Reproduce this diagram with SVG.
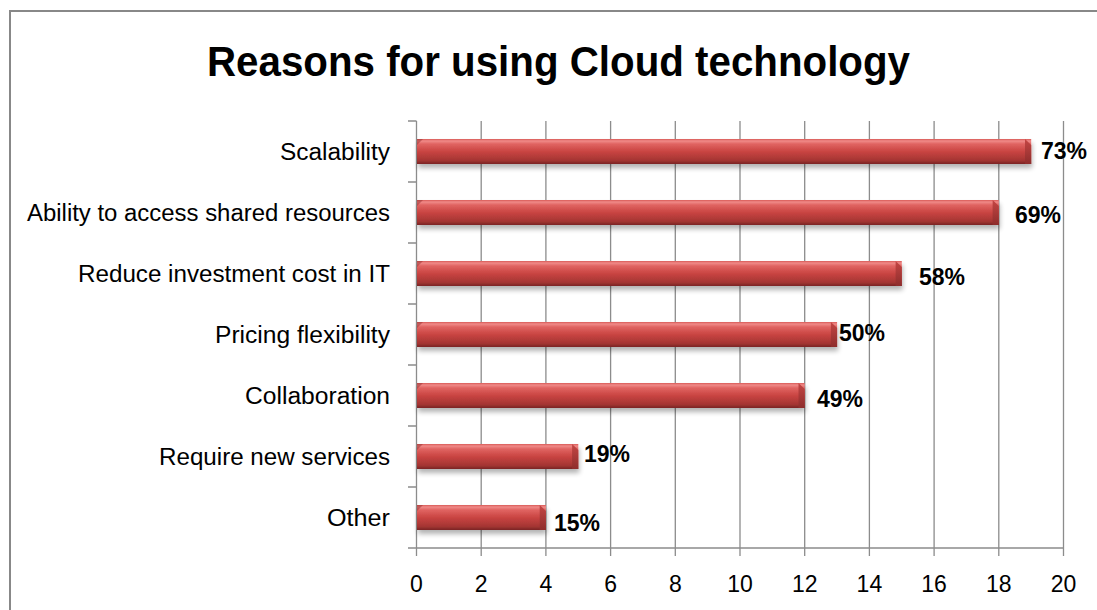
<svg xmlns="http://www.w3.org/2000/svg" width="1097" height="610" viewBox="0 0 1097 610">
<style>
.grid{stroke:#8c8c8c;stroke-width:1.3;fill:none}
.cat{font-family:"Liberation Sans",Arial,sans-serif;font-size:23px;fill:#000;text-anchor:end}
.val{font-family:"Liberation Sans",Arial,sans-serif;font-size:23px;font-weight:bold;fill:#000}
.tick{font-family:"Liberation Sans",Arial,sans-serif;font-size:23px;fill:#000;text-anchor:middle}
.bar{fill:url(#barg);filter:url(#sh)}
.endcap{fill:url(#endg)}
.lbev{fill:#8e2b2b;opacity:0.45}
</style>
<defs>
<linearGradient id="barg" x1="0" y1="0" x2="0" y2="1">
<stop offset="0" stop-color="#d85a58"/>
<stop offset="0.08" stop-color="#f08a88"/>
<stop offset="0.2" stop-color="#e06461"/>
<stop offset="0.5" stop-color="#c94442"/>
<stop offset="0.85" stop-color="#a53533"/>
<stop offset="1" stop-color="#7a2626"/>
</linearGradient>
<linearGradient id="endg" x1="0" y1="0" x2="0" y2="1">
<stop offset="0" stop-color="#c44644"/>
<stop offset="1" stop-color="#8e2d2c"/>
</linearGradient>
<filter id="sh" x="-5%" y="-30%" width="110%" height="180%">
<feGaussianBlur in="SourceAlpha" stdDeviation="2.5"/>
<feOffset dx="1" dy="4" result="b"/>
<feComponentTransfer><feFuncA type="linear" slope="0.3"/></feComponentTransfer>
<feMerge><feMergeNode/><feMergeNode in="SourceGraphic"/></feMerge>
</filter>
</defs>
<rect x="0" y="0" width="1097" height="610" fill="#fff"/>
<path d="M10,610 V11 H1097" fill="none" stroke="#888" stroke-width="2"/>
<text x="207" y="76" font-family="'Liberation Sans',Arial,sans-serif" font-size="42" font-weight="bold" textLength="703" lengthAdjust="spacingAndGlyphs">Reasons for using Cloud technology</text>
<g id="axes">
<path class="grid" d="M481.2,121V556 M545.9,121V556 M610.6,121V556 M675.3,121V556 M740,121V556 M804.7,121V556 M869.4,121V556 M934.1,121V556 M998.8,121V556 M1063.5,121V556"/>
<path class="grid" d="M416.5,121V556 M408,548H1063.5 M408,121H416.5 M408,182H416.5 M408,243H416.5 M408,304H416.5 M408,365H416.5 M408,426H416.5 M408,487H416.5"/>
<text class="tick" x="416.5" y="592">0</text>
<text class="tick" x="481.2" y="592">2</text>
<text class="tick" x="545.9" y="592">4</text>
<text class="tick" x="610.6" y="592">6</text>
<text class="tick" x="675.3" y="592">8</text>
<text class="tick" x="740" y="592">10</text>
<text class="tick" x="804.7" y="592">12</text>
<text class="tick" x="869.4" y="592">14</text>
<text class="tick" x="934.1" y="592">16</text>
<text class="tick" x="998.8" y="592">18</text>
<text class="tick" x="1063.5" y="592">20</text>
</g>
<g id="connectors"></g>
<g id="scalability">
<rect class="bar" x="417" y="139" width="614.2" height="25"/>
<polygon class="endcap" points="1025,139 1031.2,145 1031.2,164 1025,164"/>
<polygon class="lbev" points="417,139 423,139 417,145"/>
<text class="cat" x="390" y="160" textLength="110" lengthAdjust="spacingAndGlyphs">Scalability</text>
<text class="val" x="1041" y="159">73%</text>
</g>
<g id="shared-resources">
<rect class="bar" x="417" y="200" width="581.8" height="25"/>
<polygon class="endcap" points="992.6,200 998.8,206 998.8,225 992.6,225"/>
<polygon class="lbev" points="417,200 423,200 417,206"/>
<text class="cat" x="390" y="221" textLength="363" lengthAdjust="spacingAndGlyphs">Ability to access shared resources</text>
<text class="val" x="1015" y="223">69%</text>
</g>
<g id="reduce-cost">
<rect class="bar" x="417" y="261" width="484.8" height="25"/>
<polygon class="endcap" points="895.6,261 901.8,267 901.8,286 895.6,286"/>
<polygon class="lbev" points="417,261 423,261 417,267"/>
<text class="cat" x="390" y="282" textLength="312" lengthAdjust="spacingAndGlyphs">Reduce investment cost in IT</text>
<text class="val" x="919" y="285">58%</text>
</g>
<g id="pricing">
<rect class="bar" x="417" y="322" width="420.1" height="25"/>
<polygon class="endcap" points="830.9,322 837.1,328 837.1,347 830.9,347"/>
<polygon class="lbev" points="417,322 423,322 417,328"/>
<text class="cat" x="390" y="343" textLength="175" lengthAdjust="spacingAndGlyphs">Pricing flexibility</text>
<text class="val" x="839" y="341">50%</text>
</g>
<g id="collaboration">
<rect class="bar" x="417" y="383" width="387.7" height="25"/>
<polygon class="endcap" points="798.5,383 804.7,389 804.7,408 798.5,408"/>
<polygon class="lbev" points="417,383 423,383 417,389"/>
<text class="cat" x="390" y="404" textLength="145" lengthAdjust="spacingAndGlyphs">Collaboration</text>
<text class="val" x="817" y="407">49%</text>
</g>
<g id="new-services">
<rect class="bar" x="417" y="444" width="161.3" height="25"/>
<polygon class="endcap" points="572.1,444 578.3,450 578.3,469 572.1,469"/>
<polygon class="lbev" points="417,444 423,444 417,450"/>
<text class="cat" x="390" y="465" textLength="231" lengthAdjust="spacingAndGlyphs">Require new services</text>
<text class="val" x="584" y="462">19%</text>
</g>
<g id="other">
<rect class="bar" x="417" y="505" width="128.9" height="25"/>
<polygon class="endcap" points="539.7,505 545.9,511 545.9,530 539.7,530"/>
<polygon class="lbev" points="417,505 423,505 417,511"/>
<text class="cat" x="390" y="526" textLength="63" lengthAdjust="spacingAndGlyphs">Other</text>
<text class="val" x="554" y="531">15%</text>
</g>
</svg>
